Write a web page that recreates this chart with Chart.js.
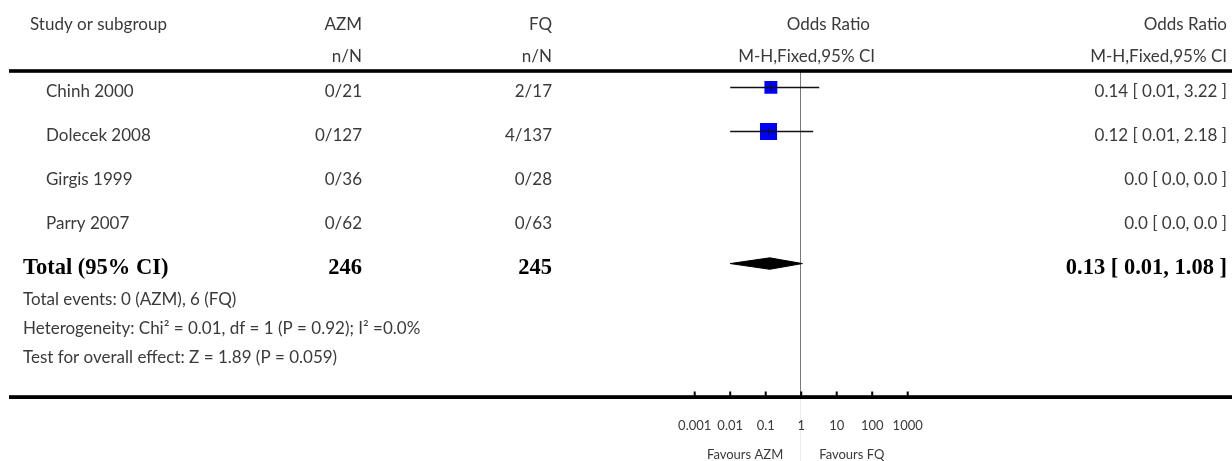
<!DOCTYPE html>
<html lang="en">
<head>
  <meta charset="UTF-8">
  <title>Forest plot: AZM vs FQ</title>
  <script src="https://cdn.jsdelivr.net/npm/chart.js"></script>
  <style>
    body {
      margin: 0;
      background: #ffffff;
    }
    .chart-container {
      position: relative;
      width: 1232px;
      height: 461px;
    }
  </style>
</head>
<body>
  <div class="chart-container">
    <canvas id="forestChart" width="1232" height="461"></canvas>
  </div>

  <script>
    // Study data
    const studies = ['Chinh 2000', 'Dolecek 2008', 'Girgis 1999', 'Parry 2007'];
    const azmEvents = [0, 0, 0, 0];
    const azmTotal = [21, 127, 36, 62];
    const fqEvents = [2, 4, 0, 0];
    const fqTotal = [17, 137, 28, 63];
    const oddsRatio = [0.14, 0.12, null, null];
    const ciLow = [0.01, 0.01, null, null];
    const ciHigh = [3.22, 2.18, null, null];
    const weights = [36.5, 63.5, 0, 0]; // M-H weights, % (sets box size)
    const ciLabels = ['0.14 [ 0.01, 3.22 ]', '0.12 [ 0.01, 2.18 ]', '0.0 [ 0.0, 0.0 ]', '0.0 [ 0.0, 0.0 ]'];

    // Pooled result
    const totalLabel = 'Total (95% CI)';
    const totalAzm = 246;
    const totalFq = 245;
    const totalOR = 0.13;
    const totalLow = 0.01;
    const totalHigh = 1.08;
    const totalCiLabel = '0.13 [ 0.01, 1.08 ]';
    const footnotes = [
      'Total events: 0 (AZM), 6 (FQ)',
      'Heterogeneity: Chi\u00B2 = 0.01, df = 1 (P = 0.92); I\u00B2 =0.0%',
      'Test for overall effect: Z = 1.89 (P = 0.059)'
    ];

    // Axis
    const tickValues = [0.001, 0.01, 0.1, 1, 10, 100, 1000];
    const tickLabels = ['0.001', '0.01', '0.1', '1', '10', '100', '1000'];
    const favoursLeft = 'Favours AZM';
    const favoursRight = 'Favours FQ';

    const totalRow = studies.length;
    const TEXT = '#3a3a3a';
    const FONT = '17px Lato';
    const BOLD = 'bold 22.5px "Liberation Serif"';

    // CI lines, one dataset per study
    const ciSets = [];
    studies.forEach((s, i) => {
      if (oddsRatio[i] === null) return;
      ciSets.push({
        data: [{ x: ciLow[i], y: i }, { x: ciHigh[i], y: i }],
        showLine: true,
        borderColor: '#111111',
        borderWidth: 1.5,
        pointRadius: 0,
        order: 1,
      });
    });

    // box side grows with sqrt(weight); rect point radius = half side * sqrt(2)
    const boxData = [];
    const boxSizes = [];
    studies.forEach((s, i) => {
      if (oddsRatio[i] === null) return;
      boxData.push({ x: oddsRatio[i], y: i });
      boxSizes.push(1.067 * Math.sqrt(weights[i]) * Math.SQRT2);
    });

    const diamondHalf = 0.13;
    const diamond = [
      { x: totalLow, y: totalRow },
      { x: totalOR, y: totalRow - diamondHalf },
      { x: totalHigh, y: totalRow },
      { x: totalOR, y: totalRow + diamondHalf },
      { x: totalLow, y: totalRow },
    ];

    // Table text, reference lines and axis
    const tablePlugin = {
      id: 'forestTable',
      beforeDatasetsDraw: (chart) => {
        const { ctx, chartArea, scales } = chart;
        const x1 = Math.round(scales.x.getPixelForValue(1)) - 0.5;
        const axisY = chartArea.bottom;
        ctx.save();
        ctx.lineWidth = 1;
        ctx.strokeStyle = '#7a7a7a';
        ctx.beginPath();
        ctx.moveTo(x1, chartArea.top);
        ctx.lineTo(x1, axisY);
        ctx.stroke();
        ctx.strokeStyle = '#ececec';
        ctx.beginPath();
        ctx.moveTo(x1, axisY);
        ctx.lineTo(x1, chart.height);
        ctx.stroke();
        ctx.restore();
      },
      afterDraw: (chart) => {
        const { ctx, chartArea, scales } = chart;
        const yPix = (r) => scales.y.getPixelForValue(r);
        const axisY = chartArea.bottom;
        ctx.save();

        // header rule and axis rule
        ctx.fillStyle = '#000';
        ctx.fillRect(9, 69.2, chart.width - 9, 3.6);
        ctx.fillRect(9, axisY - 1.8, chart.width - 9, 3.8);

        // axis ticks
        tickValues.forEach((v) => {
          const px = scales.x.getPixelForValue(v);
          ctx.fillRect(px - 1, axisY - 5.5, 2, 5.5);
        });

        const text = (str, x, y, align, font, color) => {
          ctx.font = font || FONT;
          ctx.fillStyle = color || TEXT;
          ctx.textAlign = align || 'left';
          ctx.textBaseline = 'alphabetic';
          ctx.fillText(str, x, y);
        };

        // headers
        text('Study or subgroup', 30, 29.5);
        text('AZM', 362, 29.5, 'right');
        text('FQ', 552, 29.5, 'right');
        text('Odds Ratio', 870, 29.5, 'right');
        text('Odds Ratio', 1227, 29.5, 'right');
        text('n/N', 362, 61.5, 'right');
        text('n/N', 552, 61.5, 'right');
        text('M-H,Fixed,95% CI', 875, 61.5, 'right');
        text('M-H,Fixed,95% CI', 1227, 61.5, 'right');

        // study rows
        studies.forEach((s, i) => {
          const by = yPix(i) + 9.5;
          text(s, 46, by);
          text(azmEvents[i] + '/' + azmTotal[i], 362, by, 'right');
          text(fqEvents[i] + '/' + fqTotal[i], 552, by, 'right');
          text(ciLabels[i], 1227, by, 'right');
        });

        // total row
        const ty = yPix(totalRow) + 10.5;
        text(totalLabel, 23, ty, 'left', BOLD, '#000');
        text(String(totalAzm), 362, ty, 'right', BOLD, '#000');
        text(String(totalFq), 552, ty, 'right', BOLD, '#000');
        text(totalCiLabel, 1227, ty, 'right', BOLD, '#000');

        footnotes.forEach((f, i) => {
          text(f, 23, ty + 31 + i * 29.2);
        });

        // tick labels and favours labels
        const x1 = scales.x.getPixelForValue(1);
        tickValues.forEach((v, i) => {
          text(tickLabels[i], scales.x.getPixelForValue(v), 430, 'center', '13px Lato');
        });
        text(favoursLeft, x1 - 18, 459, 'right', '13px Lato');
        text(favoursRight, x1 + 18, 459, 'left', '13px Lato');

        ctx.restore();
      },
    };

    const ctx = document.getElementById('forestChart').getContext('2d');
    const forestChart = new Chart(ctx, {
      type: 'scatter',
      data: {
        datasets: [
          {
            // point estimate marker
            data: boxData,
            pointStyle: 'line',
            rotation: 90,
            pointRadius: 3.5,
            borderColor: '#111111',
            borderWidth: 1,
            order: 0,
          },
          ...ciSets,
          {
            // study weight boxes
            data: boxData,
            pointStyle: 'rect',
            pointRadius: boxSizes,
            backgroundColor: '#0000ff',
            borderWidth: 0,
            order: 2,
          },
          {
            // pooled diamond
            data: diamond,
            showLine: true,
            fill: 'shape',
            backgroundColor: '#000000',
            borderColor: '#000000',
            borderWidth: 1,
            pointRadius: 0,
            tension: 0,
            order: 3,
          },
        ],
      },
      options: {
        responsive: false,
        animation: false,
        events: [],
        layout: {
          padding: { left: 694.7, right: 1232 - 907.7, top: 72, bottom: 461 - 397 },
        },
        plugins: {
          legend: { display: false },
          tooltip: { enabled: false },
        },
        scales: {
          x: {
            type: 'logarithmic',
            min: 0.001,
            max: 1000,
            display: false,
          },
          y: {
            type: 'linear',
            min: -0.35,
            max: 7.03,
            reverse: true,
            display: false,
          },
        },
      },
      plugins: [tablePlugin],
    });
  </script>
</body>
</html>
